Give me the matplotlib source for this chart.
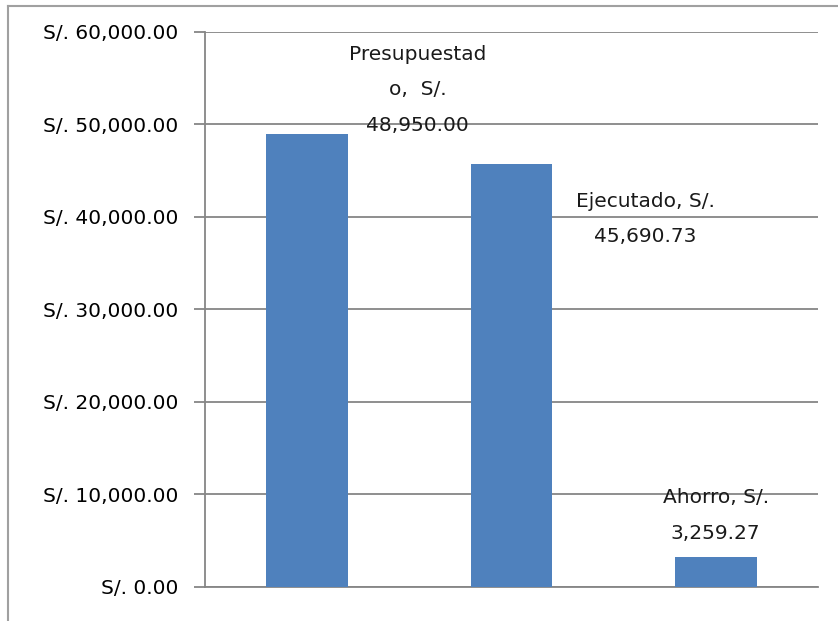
import matplotlib
matplotlib.use("Agg")
import matplotlib.pyplot as plt
from matplotlib.lines import Line2D

# data
categorias = ["Presupuestado", "Ejecutado", "Ahorro"]
montos = [48950.00, 45690.73, 3259.27]
etiquetas = ["Presupuestad\no,  S/.\n48,950.00", "Ejecutado, S/.\n45,690.73", "Ahorro, S/.\n3,259.27"]
ticks_y = [0, 10000, 20000, 30000, 40000, 50000, 60000]

plt.rcParams['font.family'] = ['DejaVu Sans']

fig = plt.figure(figsize=(8.38, 6.21), dpi=100)
ax = fig.add_axes([0.2446, 0.0548, 0.976 - 0.2446, 0.9485 - 0.0548])

x = range(len(categorias))
ax.bar(x, montos, width=0.4, color="#4f81bd", zorder=3)

ax.set_xlim(-0.5, 2.5)
ax.set_ylim(0, 60000)
ax.set_yticks(ticks_y)
ax.set_yticklabels(["S/. {:,.2f}".format(t) for t in ticks_y], fontsize=14.5)
ax.set_xticks([])
ax.yaxis.grid(True, color="#868686", linewidth=1.3, zorder=0)
ax.tick_params(axis="y", length=8, width=1.3, color="#868686", pad=11)

for s in ["top", "right"]:
    ax.spines[s].set_visible(False)
ax.spines["left"].set_color("#868686")
ax.spines["bottom"].set_color("#868686")
ax.spines["left"].set_linewidth(1.3)
ax.spines["bottom"].set_linewidth(1.3)

# data labels, offset as in the original
offsets = [(0.54, 4800), (0.655, -5900), (0.0, 4450)]
for i, (v, lab) in enumerate(zip(montos, etiquetas)):
    dx, dy = offsets[i]
    ax.text(i + dx, v + dy, lab, ha="center", va="center", fontsize=14.5,
            linespacing=2.1, color="#1a1a1a", zorder=4)

# outer chart border
fig.add_artist(Line2D([0.0095, 1.0], [0.9903, 0.9903], color="#a0a0a0", linewidth=1.5))
fig.add_artist(Line2D([0.0095, 0.0095], [0.0, 0.9903], color="#a0a0a0", linewidth=1.5))

fig.savefig("out.png", dpi=100)
